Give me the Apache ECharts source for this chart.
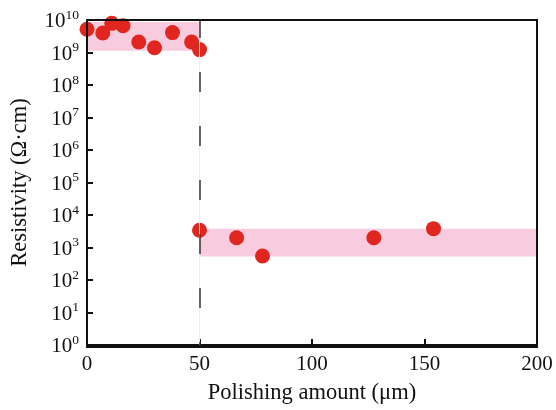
<!DOCTYPE html>
<html>
<head>
<meta charset="utf-8">
<script src="https://cdn.jsdelivr.net/npm/echarts@6/dist/echarts.min.js"></script>
<style>
  html, body { margin: 0; padding: 0; background: #fff; }
  #chart { width: 556px; height: 410px; }
</style>
</head>
<body>
<div id="chart"></div>
<script>
  // before 50 um (surface layer)
  var xsHigh = [0, 7, 11, 16, 23, 30, 38, 46.5, 50]
  var ysHigh = [5.2e9, 4.0e9, 7.9e9, 6.7e9, 2.1e9, 1.4e9, 4.1e9, 2.1e9, 1.23e9]
  // after polishing through
  var xsLow = [50, 66.5, 78, 127.5, 154]
  var ysLow = [3400, 2000, 550, 2000, 3800]
  // shaded ranges [xFrom, xTo, yLow, yHigh]
  var bandHigh = [0, 50, 1.13e9, 8.7e9]
  var bandLow = [50, 200, 530, 3800]
  var boundaryX = 50
  var xTicks = [0, 50, 100, 150, 200]

  var font = 'Liberation Serif'
  var chart = echarts.init(document.getElementById('chart'))

  function pts (xs, ys) {
    var arr = []
    xs.forEach(function (x, i) {
      arr.push([x, ys[i]])
    })
    return arr
  }
  function area (b) {
    return [[{ coord: [b[0], b[2]] }, { coord: [b[1], b[3]] }]]
  }

  var option = {
    animation: false,
    grid: { left: 87, right: 19, top: 20, bottom: 63 },
    xAxis: {
      type: 'value',
      min: xTicks[0],
      max: xTicks[xTicks.length - 1],
      interval: 50,
      name: 'Polishing amount (μm)',
      nameLocation: 'middle',
      nameGap: 37,
      nameTextStyle: { fontFamily: font, fontSize: 22.5, color: '#111' },
      axisLine: { lineStyle: { color: '#111', width: 2 } },
      axisTick: { inside: true, length: 6, lineStyle: { color: '#111', width: 2 } },
      axisLabel: { fontFamily: font, fontSize: 21, color: '#111', margin: 9 },
      splitLine: { show: false }
    },
    yAxis: {
      type: 'log',
      logBase: 10,
      min: 1,
      max: 1e10,
      interval: 1,
      name: 'Resistivity (Ω·cm)',
      nameLocation: 'middle',
      nameGap: 55,
      nameTextStyle: { fontFamily: font, fontSize: 22.5, color: '#111' },
      axisLine: { lineStyle: { color: '#111', width: 2 } },
      axisTick: { inside: true, length: 6, lineStyle: { color: '#111', width: 2 } },
      axisLabel: {
        margin: 8,
        formatter: function (v) {
          var e = Math.round(Math.log10(v))
          return '{b|10}{s|' + e + '}'
        },
        rich: {
          b: { fontFamily: font, fontSize: 21, color: '#111', lineHeight: 24, verticalAlign: 'bottom' },
          s: { fontFamily: font, fontSize: 13.5, color: '#111', lineHeight: 14, verticalAlign: 'top' }
        }
      },
      splitLine: { show: false }
    },
    series: [
      {
        type: 'scatter',
        data: [],
        silent: true,
        markArea: {
          silent: true,
          itemStyle: { color: '#f8cbdf' },
          data: area(bandHigh).concat(area(bandLow))
        },
        // faint guide behind the dashes
        markLine: {
          silent: true,
          symbol: 'none',
          label: { show: false },
          lineStyle: { color: '#ececec', width: 1, type: 'solid' },
          data: [{ xAxis: boundaryX }]
        }
      },
      {
        type: 'scatter',
        data: pts(xsHigh, ysHigh).concat(pts(xsLow, ysLow)),
        symbolSize: 15,
        itemStyle: { color: '#e0261f', opacity: 1 },
        z: 3
      },
      {
        type: 'scatter',
        data: [],
        z: 5,
        markLine: {
          silent: true,
          symbol: 'none',
          label: { show: false },
          lineStyle: { color: '#333', width: 1.5, type: [20, 34], dashOffset: 17 },
          data: [{ xAxis: boundaryX }]
        }
      }
    ],
    graphic: [
      // plot frame: top and right edges
      {
        type: 'rect',
        shape: { x: 87, y: 20, width: 450, height: 327 },
        style: { fill: null, stroke: '#111', lineWidth: 2 },
        silent: true,
        z: 10
      }
    ]
  }
  chart.setOption(option)
</script>
</body>
</html>
